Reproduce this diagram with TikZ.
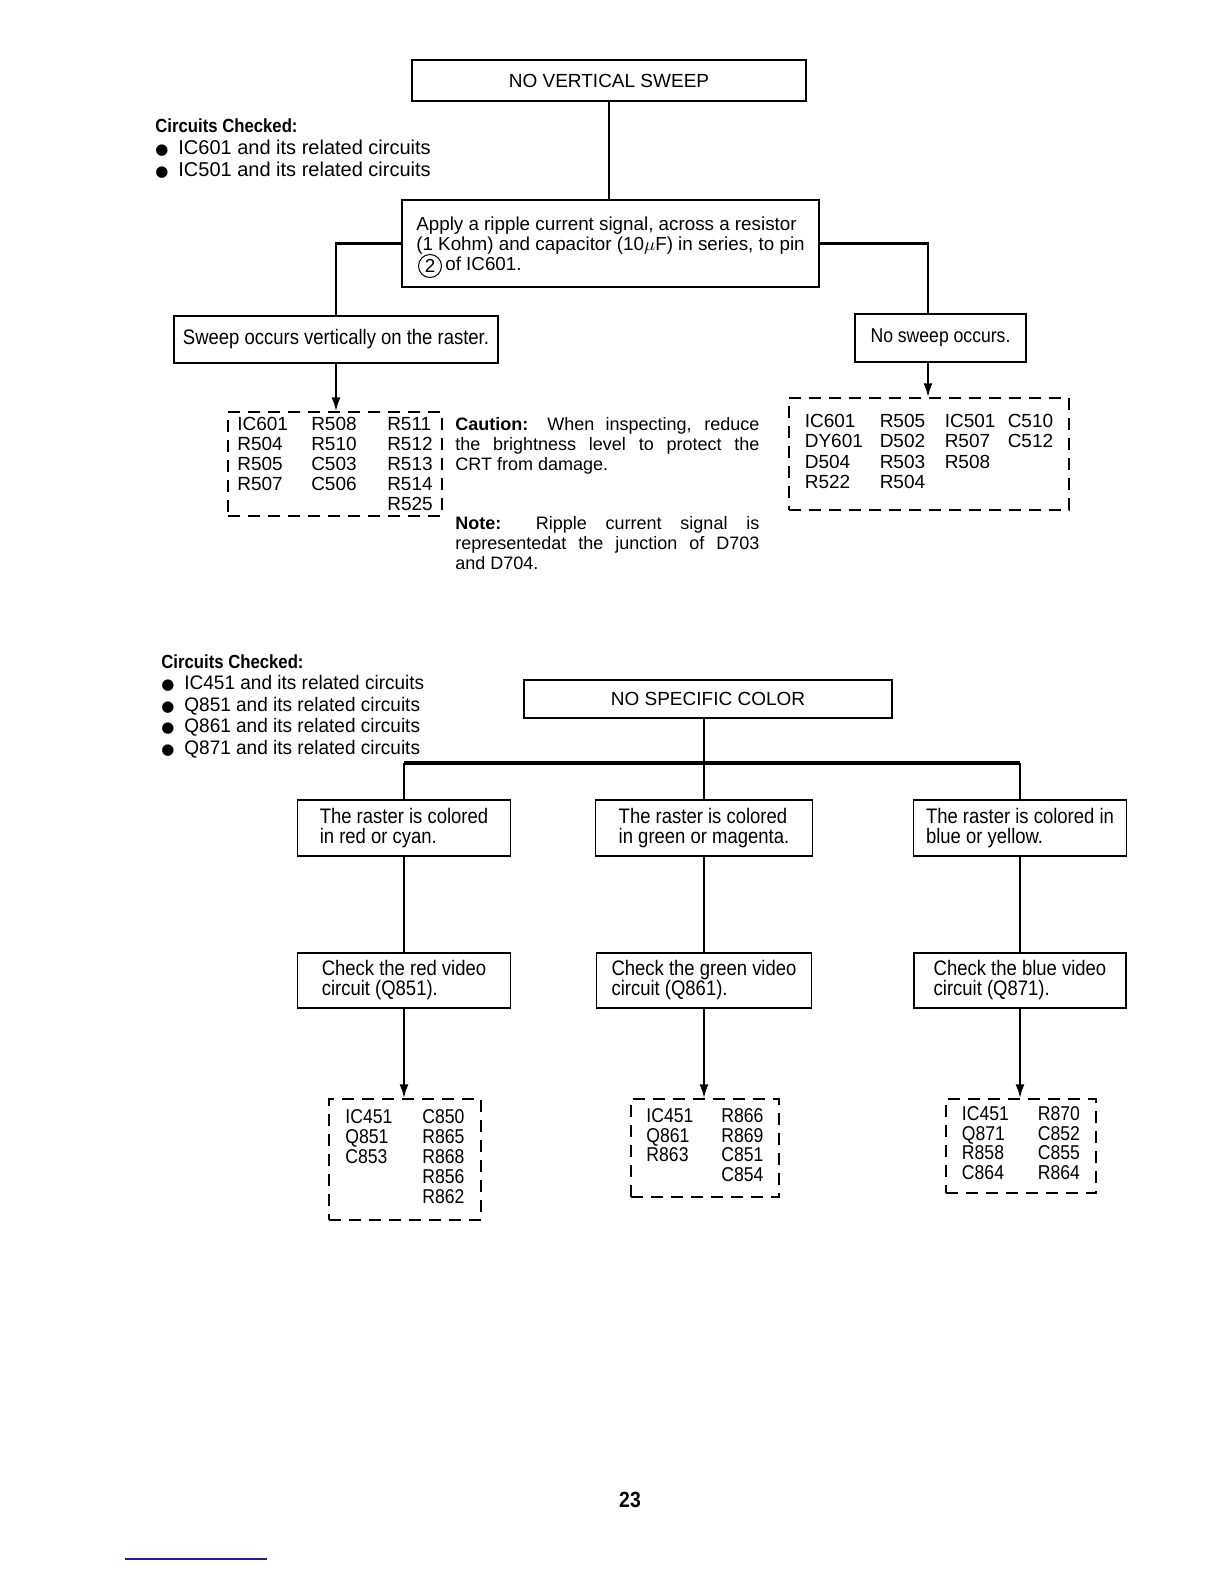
\documentclass[tikz,border=0pt]{standalone}
\usepackage{fontspec}
\setmainfont{Liberation Sans}
\newfontfamily\narrowfont[FakeStretch=0.88]{Liberation Sans}
\newfontfamily\listfont[FakeStretch=0.97]{Liberation Sans}
\newfontfamily\symfont{DejaVu Sans}
\usetikzlibrary{arrows.meta,positioning}
\definecolor{footblue}{RGB}{30,30,150}

\newcommand\fs[2]{\fontsize{#1}{#2}\selectfont}
\newcommand\blt{\makebox[11.5pt][l]{\symfont\fs{7.5}{11}●}}

\tikzset{
  chartbox/.style={draw, line width=0.9pt, inner sep=3pt, align=left},
  partbox/.style={draw, line width=0.7pt, dash pattern=on 6pt off 4pt, inner sep=0pt},
  link/.style={line width=1.1pt},
  linkarrow/.style={link, -{Latex[length=7pt,width=4.5pt]}},
  busline/.style={line width=1.6pt},
}

\begin{document}
\begin{tikzpicture}[x=0.5pt,y=-0.5pt]
\fill[white] (0,0) rectangle (1224,1584);
\useasboundingbox (0,0) rectangle (1224,1584);

% no vertical sweep
\begin{scope}[every node/.style={chartbox}]
  \node[minimum width=197pt, minimum height=20.5pt, font=\fs{9.5}{11}] (nvs) at (609,80.5) {NO VERTICAL SWEEP};
  \node[minimum width=208.5pt, minimum height=43.5pt, font=\fs{9.4}{10}] (ripple) at (610.5,243.5)
    {Apply a ripple current signal, across a resistor\\ (1 Kohm) and capacitor (10$\mu$F) in series, to pin\\ \hspace{14.5pt}of IC601.};
  \node[minimum width=162pt, minimum height=23.5pt, font={\narrowfont\fs{10.5}{12}}] (yes) at (336,339.5) {Sweep occurs vertically on the raster.};
  \node[minimum width=85.5pt, minimum height=24pt, font={\narrowfont\fs{10}{12}}] (no) at (940.5,338) {No sweep occurs.};
\end{scope}
\node[circle, draw, line width=0.5pt, minimum size=11.5pt, inner sep=0pt, font=\fs{9.4}{10}] (pin) at (430,266) {2};

\begin{scope}[every node/.style={partbox, font=\fs{9.5}{10}}]
  \node[minimum width=107pt, minimum height=52pt] (partsL) at (335,464)
    {\begin{tabular}{@{}p{37pt}@{}p{38pt}@{}l@{}}
      \rule{0pt}{9pt}IC601 & R508 & R511\\ R504 & R510 & R512\\ R505 & C503 & R513\\ R507 & C506 & R514\\ & & R525
    \end{tabular}};
  \node[minimum width=140pt, minimum height=56pt, font=\fs{9.5}{10.25}] (partsR) at (929,454)
    {\begin{tabular}{@{}p{37.5pt}@{}p{32.5pt}@{}p{31.5pt}@{}l@{}}
      IC601 & R505 & IC501 & C510\\ DY601 & D502 & R507 & C512\\ D504 & R503 & R508 & \\ R522 & R504 & &
    \end{tabular}};
\end{scope}

\node[anchor=west, inner sep=0pt, align=left, font=\fs{9}{10}] (caution) at (455,446)
  {\makebox[152pt][s]{\textbf{Caution:} When inspecting, reduce}\\
   \makebox[152pt][s]{the brightness level to protect the}\\ CRT from damage.};
\node[anchor=west, inner sep=0pt, align=left, font=\fs{9}{10}] (note) at (455,543)
  {\makebox[152pt][s]{\textbf{Note:} Ripple current signal is}\\
   \makebox[152pt][s]{representedat the junction of D703}\\ and D704.};

\node[anchor=north west, inner sep=0pt, align=left, font=\fs{10}{11}] (checkA) at (155,118)
  {{\narrowfont\bfseries\fs{9.5}{11}Circuits Checked:}\\
   \blt IC601 and its related circuits\\
   \blt IC501 and its related circuits};

\coordinate (colR) at (928,0);
\draw[link] (nvs.south) -- (nvs.south |- ripple.north);
\draw[link] (ripple.west) -| (yes.north);
\draw[link] (ripple.east) -| (colR |- no.north);
\draw[linkarrow] (yes.south) -- (yes.south |- partsL.north);
\draw[linkarrow] (colR |- no.south) -- (colR |- partsR.north);

% no specific color
\node[anchor=north west, inner sep=0pt, align=left, font={\listfont\fs{9.8}{10.75}}] (checkB) at (161,654)
  {{\narrowfont\bfseries\fs{9.5}{10.75}Circuits Checked:}\\
   \blt IC451 and its related circuits\\
   \blt Q851 and its related circuits\\
   \blt Q861 and its related circuits\\
   \blt Q871 and its related circuits};

\begin{scope}[every node/.style={chartbox, font={\narrowfont\fs{10.5}{10}}}]
  \node[minimum width=184pt, minimum height=19pt, font=\fs{9.5}{11}] (nsc) at (708,699) {NO SPECIFIC COLOR};
  \node[minimum width=106.5pt, minimum height=28pt] (rasterR) at (404,828) {The raster is colored\\ in red or cyan.};
  \node[minimum width=108.5pt, minimum height=28pt] (rasterG) at (704,828) {The raster is colored\\ in green or magenta.};
  \node[minimum width=106.5pt, minimum height=28pt] (rasterB) at (1020,828) {The raster is colored in\\ blue or yellow.};
  \node[minimum width=106.5pt, minimum height=27.5pt] (checkR) at (404,980.5) {Check the red video\\ circuit (Q851).};
  \node[minimum width=107.5pt, minimum height=27.5pt] (checkG) at (704,980.5) {Check the green video\\ circuit (Q861).};
  \node[minimum width=106pt, minimum height=27.5pt] (checkB) at (1020,980.5) {Check the blue video\\ circuit (Q871).};
\end{scope}

\begin{scope}[every node/.style={partbox, font={\narrowfont\fs{10}{9.9}}}]
  \node[minimum width=76pt, minimum height=60.5pt] (partsRed) at (405,1159.5)
    {\begin{tabular}{@{}p{38.5pt}@{}l@{}}
      IC451 & C850\\ Q851 & R865\\ C853 & R868\\ & R856\\ & R862
    \end{tabular}};
  \node[minimum width=74pt, minimum height=49pt] (partsGrn) at (705,1148)
    {\begin{tabular}{@{}p{37.5pt}@{}l@{}}
      IC451 & R866\\ Q861 & R869\\ R863 & C851\\ & C854
    \end{tabular}};
  \node[minimum width=75pt, minimum height=47pt] (partsBlu) at (1021,1146)
    {\begin{tabular}{@{}p{38pt}@{}l@{}}
      IC451 & R870\\ Q871 & C852\\ R858 & C855\\ C864 & R864
    \end{tabular}};
\end{scope}

\coordinate (bus) at (704,763);
\draw[link] (bus |- nsc.south) -- (bus);
\draw[busline] (rasterR.north |- bus) -- (rasterB.north |- bus);
\foreach \n in {rasterR,rasterG,rasterB}
  \draw[link] (\n.north |- bus) -- (\n.north);
\foreach \a/\b/\c in {rasterR/checkR/partsRed, rasterG/checkG/partsGrn, rasterB/checkB/partsBlu} {
  \draw[link] (\a.south) -- (\b.north);
  \draw[linkarrow] (\b.south) -- (\b.south |- \c.north);
}

% page foot
\node[font={\narrowfont\bfseries\fs{11}{12}}] (pageno) at (630,1500) {23};
\draw[footblue, line width=0.8pt] (125,1559) -- (267,1559);
\end{tikzpicture}
\end{document}
